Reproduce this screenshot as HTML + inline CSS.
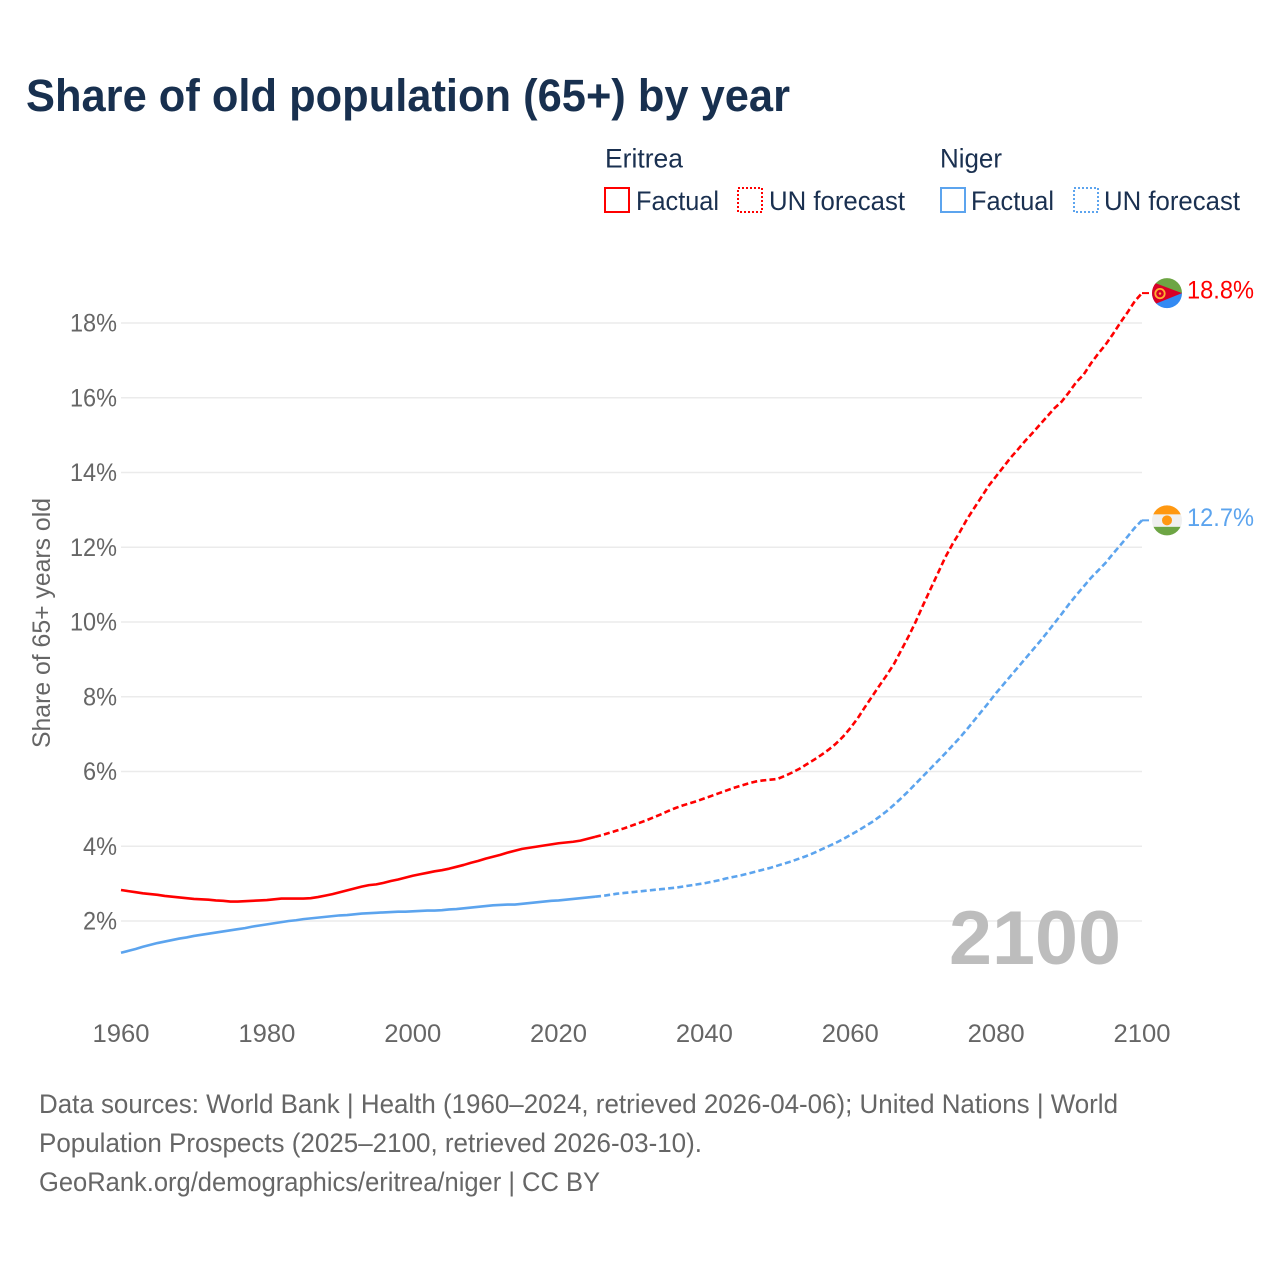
<!DOCTYPE html>
<html lang="en">
<head>
<meta charset="utf-8">
<title>Share of old population (65+) by year</title>
<style>
html,body{margin:0;padding:0;background:#fff;width:1280px;height:1280px;overflow:hidden}
svg{display:block}
text{font-family:"Liberation Sans",sans-serif}
</style>
</head>
<body>
<svg id="chart" width="1280" height="1280" viewBox="0 0 1280 1280" xmlns="http://www.w3.org/2000/svg">
  <defs>
    <clipPath id="flag-clip"><circle cx="0" cy="0" r="15"/></clipPath>
  </defs>
  <rect width="1280" height="1280" fill="#fff"/>
  <text x="26" y="111" font-size="45" font-weight="700" fill="#18304f" textLength="764" lengthAdjust="spacingAndGlyphs">Share of old population (65+) by year</text>

  <g font-size="26.500" fill="#1a3050">
    <text x="605" y="167.500" textLength="78" lengthAdjust="spacingAndGlyphs">Eritrea</text>
    <rect x="605" y="188" width="24" height="24" fill="none" stroke="#ff0000" stroke-width="2"/>
    <text x="636" y="210" textLength="83" lengthAdjust="spacingAndGlyphs">Factual</text>
    <rect x="738" y="188" width="24" height="24" fill="none" stroke="#ff0000" stroke-width="2" stroke-dasharray="2 2"/>
    <text x="769" y="210" textLength="136" lengthAdjust="spacingAndGlyphs">UN forecast</text>
    <text x="940" y="167.500" textLength="62" lengthAdjust="spacingAndGlyphs">Niger</text>
    <rect x="941" y="188" width="24" height="24" fill="none" stroke="#5ca4ee" stroke-width="2"/>
    <text x="971" y="210" textLength="83" lengthAdjust="spacingAndGlyphs">Factual</text>
    <rect x="1074" y="188" width="24" height="24" fill="none" stroke="#5ca4ee" stroke-width="2" stroke-dasharray="2 2"/>
    <text x="1104" y="210" textLength="136" lengthAdjust="spacingAndGlyphs">UN forecast</text>
  </g>

  <g id="grid"></g>
  <g id="y-ticks"></g>
  <g id="x-ticks"></g>
  <text transform="translate(50,748) rotate(-90)" font-size="25" fill="#666" textLength="250" lengthAdjust="spacingAndGlyphs">Share of 65+ years old</text>

  <text x="949" y="964" font-size="76" font-weight="700" fill="#bdbdbd" textLength="172" lengthAdjust="spacingAndGlyphs">2100</text>

  <g id="series"></g>

  <g id="flag-eritrea">
    <g clip-path="url(#flag-clip)">
      <rect x="-16" y="-16" width="32" height="16" fill="#6da544"/>
      <rect x="-16" y="0" width="32" height="16" fill="#338af3"/>
      <polygon points="15,0 -17,-12 -17,13" fill="#d80027"/>
      <circle cx="-7" cy="0.5" r="4.7" fill="none" stroke="#ffb030" stroke-width="1.8"/>
      <circle cx="-7" cy="0.5" r="1.2" fill="#ffb030"/>
    </g>
  </g>
  <g id="flag-niger">
    <g clip-path="url(#flag-clip)">
      <rect x="-16" y="-16" width="32" height="32" fill="#f0f0f0"/>
      <rect x="-16" y="-16" width="32" height="10" fill="#ff9811"/>
      <rect x="-16" y="6.500" width="32" height="10" fill="#6da544"/>
      <circle cx="0" cy="0" r="5" fill="#ff9811"/>
    </g>
  </g>
  <text id="label-eritrea" x="1187" font-size="25" fill="#ff0000" textLength="67" lengthAdjust="spacingAndGlyphs"></text>
  <text id="label-niger" x="1187" font-size="25" fill="#5ca4ee" textLength="67" lengthAdjust="spacingAndGlyphs"></text>

  <g font-size="26.500" fill="#666">
    <text x="39" y="1113" textLength="1079" lengthAdjust="spacingAndGlyphs">Data sources: World Bank | Health (1960–2024, retrieved 2026-04-06); United Nations | World</text>
    <text x="39" y="1152" textLength="663" lengthAdjust="spacingAndGlyphs">Population Prospects (2025–2100, retrieved 2026-03-10).</text>
    <text x="39" y="1191" textLength="561" lengthAdjust="spacingAndGlyphs">GeoRank.org/demographics/eritrea/niger | CC BY</text>
  </g>
</svg>
<script>
const firstYear = 1960;
const lastFactualYear = 2024;
const yTickValues = [2, 4, 6, 8, 10, 12, 14, 16, 18];
const xTickValues = [1960, 1980, 2000, 2020, 2040, 2060, 2080, 2100];
const eritreaValues = [
  2.83,2.80,2.77,2.74,2.72,2.70,2.67,2.65,2.63,2.61,
  2.59,2.58,2.57,2.55,2.54,2.52,2.52,2.53,2.54,2.55,
  2.56,2.58,2.60,2.60,2.60,2.60,2.61,2.64,2.68,2.72,
  2.77,2.82,2.87,2.92,2.96,2.98,3.02,3.07,3.11,3.16,
  3.21,3.25,3.29,3.33,3.36,3.40,3.45,3.50,3.56,3.61,
  3.67,3.72,3.77,3.83,3.88,3.93,3.96,3.99,4.02,4.05,
  4.08,4.10,4.12,4.15,4.20,4.25,4.30,4.36,4.42,4.48,
  4.55,4.62,4.69,4.77,4.85,4.94,5.02,5.09,5.15,5.21,
  5.28,5.35,5.42,5.49,5.56,5.62,5.68,5.73,5.76,5.78,
  5.80,5.88,5.97,6.07,6.19,6.31,6.44,6.58,6.74,6.93,
  7.16,7.42,7.72,8.01,8.30,8.58,8.88,9.25,9.62,10.02,
  10.46,10.88,11.30,11.72,12.08,12.40,12.75,13.05,13.35,13.65,
  13.90,14.15,14.40,14.62,14.85,15.06,15.28,15.50,15.72,15.90,
  16.15,16.42,16.62,16.92,17.18,17.42,17.70,18.00,18.28,18.58,
  18.80
];
const nigerValues = [
  1.15,1.20,1.25,1.31,1.36,1.41,1.45,1.49,1.53,1.56,
  1.60,1.63,1.66,1.69,1.72,1.75,1.78,1.81,1.85,1.88,
  1.91,1.94,1.97,2.00,2.02,2.05,2.07,2.09,2.11,2.13,
  2.15,2.16,2.18,2.20,2.21,2.22,2.23,2.24,2.25,2.25,
  2.26,2.27,2.28,2.28,2.29,2.31,2.32,2.34,2.36,2.38,
  2.40,2.42,2.43,2.44,2.44,2.46,2.48,2.50,2.52,2.54,
  2.55,2.57,2.59,2.61,2.63,2.65,2.67,2.70,2.73,2.75,
  2.77,2.79,2.81,2.83,2.85,2.87,2.89,2.92,2.95,2.98,
  3.01,3.05,3.09,3.14,3.18,3.22,3.27,3.32,3.37,3.42,
  3.48,3.54,3.60,3.67,3.74,3.82,3.91,4.00,4.09,4.19,
  4.30,4.41,4.53,4.65,4.79,4.94,5.11,5.29,5.48,5.68,
  5.88,6.08,6.28,6.48,6.69,6.90,7.13,7.37,7.61,7.85,
  8.10,8.33,8.56,8.79,9.02,9.25,9.48,9.72,9.97,10.22,
  10.48,10.72,10.95,11.18,11.38,11.58,11.82,12.05,12.28,12.52,
  12.72
];

const NS = 'http://www.w3.org/2000/svg';
function xScale(year) { return 121 + (year - 1960) * (1142 - 121) / 140; }
function yScale(value) { return 921 - (value - 2) * (921 - 323) / 16; }
function pointsFor(values, fromYear, toYear) {
  const pts = [];
  for (let yr = fromYear; yr <= toYear; yr++) {
    const v = values[yr - firstYear];
    if (v !== undefined) pts.push(xScale(yr).toFixed(2) + ',' + yScale(v).toFixed(2));
  }
  return pts.join(' ');
}
const gridGroup = document.getElementById('grid');
yTickValues.forEach(function (tick) {
  const ln = document.createElementNS(NS, 'line');
  
  
  ln.setAttribute('x1', 121);
  ln.setAttribute('x2', 1142);
  ln.setAttribute('y1', yScale(tick));
  ln.setAttribute('y2', yScale(tick));
  ln.setAttribute('stroke', '#ebebeb');
  ln.setAttribute('stroke-width', '1.5');
  gridGroup.appendChild(ln);
});
const yTickGroup = document.getElementById('y-ticks');
yTickValues.forEach(function (tick) {
  const t = document.createElementNS(NS, 'text');
  
  
  t.textContent = tick + '%';
  const w = tick >= 10 ? 47 : 34;
  t.setAttribute('x', 117 - w);
  t.setAttribute('y', yScale(tick) + 8.5);
  t.setAttribute('font-size', '25');
  t.setAttribute('fill', '#666');
  t.setAttribute('textLength', w);
  t.setAttribute('lengthAdjust', 'spacingAndGlyphs');
  yTickGroup.appendChild(t);
});
const xTickGroup = document.getElementById('x-ticks');
xTickValues.forEach(function (tick) {
  const t = document.createElementNS(NS, 'text');
  
  
  t.textContent = String(tick);
  t.setAttribute('x', xScale(tick) - 28.5);
  t.setAttribute('y', 1042);
  t.setAttribute('font-size', '25');
  t.setAttribute('fill', '#666');
  t.setAttribute('textLength', 57);
  t.setAttribute('lengthAdjust', 'spacingAndGlyphs');
  xTickGroup.appendChild(t);
});
function drawLine(name, values, color, from, to, dashed, width) {
  const p = document.createElementNS(NS, 'polyline');
  
  
  p.setAttribute('points', pointsFor(values, from, to));
  p.setAttribute('fill', 'none');
  p.setAttribute('stroke', color);
  p.setAttribute('stroke-width', width);
  p.setAttribute('stroke-linejoin', 'round');
  if (dashed) p.setAttribute('stroke-dasharray', '6 3.2');
  document.getElementById('series').appendChild(p);
}
function drawConnector(name, values, color) {
  const last = values[values.length - 1];
  const c = document.createElementNS(NS, 'line');
  
  
  c.setAttribute('x1', 1142);
  c.setAttribute('x2', 1149);
  c.setAttribute('y1', yScale(last));
  c.setAttribute('y2', yScale(last));
  c.setAttribute('stroke', color);
  c.setAttribute('stroke-width', '2');
  document.getElementById('series').appendChild(c);
}
const lastYear = firstYear + eritreaValues.length - 1;
drawLine('eritrea-factual-line', eritreaValues, '#ff0000', firstYear, lastFactualYear + 1, false, 2.6);
drawLine('eritrea-forecast-line', eritreaValues, '#ff0000', lastFactualYear + 1, lastYear, true, 2.6);
drawConnector('eritrea-connector', eritreaValues, '#ff0000');
drawLine('niger-factual-line', nigerValues, '#5ca4ee', firstYear, lastFactualYear + 1, false, 2.6);
drawLine('niger-forecast-line', nigerValues, '#5ca4ee', lastFactualYear + 1, lastYear, true, 2.6);
drawConnector('niger-connector', nigerValues, '#5ca4ee');

const lastE = eritreaValues[eritreaValues.length - 1];
const lastN = nigerValues[nigerValues.length - 1];
document.getElementById('flag-eritrea').setAttribute('transform', 'translate(1167,' + yScale(lastE).toFixed(2) + ')');
document.getElementById('flag-niger').setAttribute('transform', 'translate(1167,' + yScale(lastN).toFixed(2) + ')');
const labelE = document.getElementById('label-eritrea');
labelE.textContent = lastE.toFixed(1) + '%';
labelE.setAttribute('y', yScale(lastE) + 5.5);
const labelN = document.getElementById('label-niger');
labelN.textContent = lastN.toFixed(1) + '%';
labelN.setAttribute('y', yScale(lastN) + 5.5);
</script>
</body>
</html>
